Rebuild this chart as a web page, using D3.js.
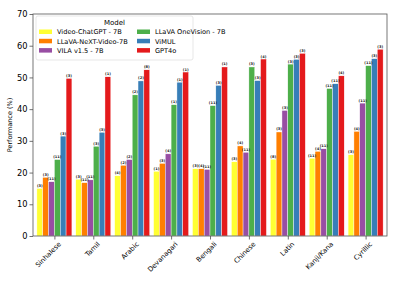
<!DOCTYPE html>
<head>
  <meta charset="utf-8">
  <script src="https://cdn.jsdelivr.net/npm/d3@7/dist/d3.min.js"></script>
  <style>
    body { margin:0; background:#fff; }
    text { font-family: "DejaVu Sans", sans-serif; }
  </style>
</head>
<body>
  <svg width="397" height="283"></svg>
  <script>
    var scripts = ["Sinhalese", "Tamil", "Arabic", "Devanagari", "Bengali", "Chinese", "Latin", "Kanji/Kana", "Cyrillic"];
    var models = ["Video-ChatGPT - 7B", "LLaVA-NeXT-Video-7B", "VILA v1.5 - 7B", "LLaVA OneVision - 7B", "ViMUL", "GPT4o"];
    var colors = ["#ffff33", "#ff7f00", "#984ea3", "#4daf4a", "#377eb8", "#e41a1c"];

    // one array per model, in script order
    var videoChatGPT = [15.0, 17.9, 19.0, 20.4, 21.2, 23.4, 24.2, 24.5, 25.6];
    var llavaNext    = [18.5, 16.8, 22.3, 22.9, 21.2, 28.4, 32.8, 26.7, 33.0];
    var vila         = [17.1, 17.7, 24.1, 25.9, 21.0, 26.4, 39.6, 27.5, 41.9];
    var oneVision    = [24.1, 28.3, 44.5, 41.4, 41.1, 53.3, 54.2, 46.5, 53.7];
    var vimul        = [31.5, 32.7, 48.9, 48.5, 47.5, 49.0, 55.7, 48.0, 55.9];
    var gpt4o        = [49.7, 50.2, 52.4, 51.7, 53.3, 55.8, 57.6, 50.5, 58.9];
    var series = [videoChatGPT, llavaNext, vila, oneVision, vimul, gpt4o];

    // small count labels over each bar (same layout as series)
    var counts = [
      ["3", "3", "4", "1", "3", "3", "8", "11", "3"],
      ["3", "11", "2", "3", "4", "4", "3", "4", "4"],
      ["11", "11", "2", "4", "11", "11", "3", "11", "11"],
      ["11", "3", "2", "1", "11", "3", "3", "11", "11"],
      ["3", "3", "2", "1", "3", "3", "3", "11", "3"],
      ["3", "1", "8", "1", "1", "4", "3", "4", "3"]
    ];
    var yTicks = [0, 10, 20, 30, 40, 50, 60, 70];

    var svg = d3.select("svg");
    var margin = {left: 33, right: 387, top: 14, bottom: 236};

    var x = d3.scaleLinear().domain([-0.55, 8.55]).range([margin.left, margin.right]);
    var y = d3.scaleLinear().domain([0, 70]).range([margin.bottom, margin.top]);
    var bw = 0.15;

    var bars = [];
    series.forEach(function (s, m) {
      s.forEach(function (v, i) {
        bars.push({m: m, i: i, v: v, c: counts[m][i]});
      });
    });

    svg.append("g").selectAll("rect")
      .data(bars)
      .enter().append("rect")
        .attr("x", function (d) { return x(d.i + (d.m - 2.5) * bw - bw / 2); })
        .attr("width", function () { return x(bw) - x(0); })
        .attr("y", function (d) { return y(d.v); })
        .attr("height", function (d) { return y(0) - y(d.v); })
        .attr("fill", function (d) { return colors[d.m]; })
        .attr("stroke", "#fff")
        .attr("stroke-width", 0.4);

    svg.append("g").selectAll("text")
      .data(bars)
      .enter().append("text")
        .attr("x", function (d) { return x(d.i + (d.m - 2.5) * bw); })
        .attr("y", function (d) { return y(d.v) - 1.5; })
        .attr("text-anchor", "middle")
        .attr("font-size", 3.6)
        .attr("font-weight", "bold")
        .attr("fill", "#222")
        .text(function (d) { return "(" + d.c + ")"; });

    // axes
    var yAxis = svg.append("g")
      .attr("transform", "translate(" + margin.left + ",0)")
      .call(d3.axisLeft(y).tickValues(yTicks).tickSize(3.5).tickPadding(2));
    yAxis.selectAll("text").attr("font-size", 8.3).attr("fill", "#000").style("font-family", "DejaVu Sans");

    var xAxis = svg.append("g")
      .attr("transform", "translate(0," + margin.bottom + ")")
      .call(d3.axisBottom(x).tickValues(d3.range(scripts.length)).tickFormat(function (i) { return scripts[i]; }).tickSize(3.5));
    xAxis.selectAll("text")
      .attr("font-size", 6.8)
      .attr("fill", "#000")
      .style("font-family", "DejaVu Sans")
      .attr("text-anchor", "end")
      .attr("dy", 0)
      .attr("transform", "translate(2,4) rotate(-45)");

    svg.selectAll(".domain").remove();
    svg.selectAll(".tick line").attr("stroke", "#333").attr("stroke-width", 0.7);

    svg.append("rect")
      .attr("x", margin.left).attr("y", margin.top)
      .attr("width", margin.right - margin.left)
      .attr("height", margin.bottom - margin.top)
      .attr("fill", "none").attr("stroke", "#555").attr("stroke-width", 0.8);

    svg.append("text")
      .attr("transform", "translate(12," + ((margin.top + margin.bottom) / 2) + ") rotate(-90)")
      .attr("text-anchor", "middle")
      .attr("font-size", 6.5)
      .text("Performance (%)");

    // legend
    var lg = svg.append("g").attr("transform", "translate(36,16)");
    lg.append("rect")
      .attr("width", 157).attr("height", 44).attr("rx", 2)
      .attr("fill", "#fff").attr("fill-opacity", 0.85)
      .attr("stroke", "#ddd").attr("stroke-width", 0.7);
    lg.append("text").attr("x", 78.5).attr("y", 8.5).attr("text-anchor", "middle")
      .attr("font-size", 7).text("Model");
    var items = lg.selectAll("g.item").data(models).enter().append("g")
      .attr("transform", function (d, i) {
        return "translate(" + (i < 3 ? 3 : 101) + "," + (14 + (i % 3) * 9.3) + ")";
      });
    items.append("rect").attr("width", 13).attr("height", 4.5).attr("y", -0.5)
      .attr("fill", function (d, i) { return colors[i]; });
    items.append("text").attr("x", 18).attr("y", 4.3)
      .attr("font-size", 6.6).text(function (d) { return d; });
  </script>
</body>
